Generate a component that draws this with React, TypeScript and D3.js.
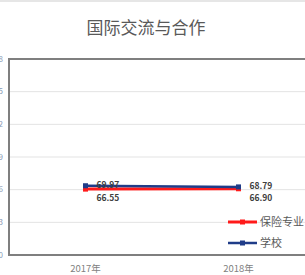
import React from 'react';
import * as d3 from 'd3';

const years = ['2017年', '2018年'];
const seriesNames = ['保险专业', '学校'];
const majorValues = [66.55, 66.9];
const schoolValues = [69.97, 68.79];
const yTicks = [0, 33, 66, 99, 132, 165, 198];

const W = 305;
const H = 275;
const margin = { top: 59, right: -10, bottom: 20, left: 9 };

const App: React.FC = () => {
  const innerW = W - margin.left - margin.right;
  const innerH = H - margin.top - margin.bottom;

  const x = d3.scalePoint<string>().domain(years).range([0, innerW]).padding(0.5);
  const y = d3.scaleLinear().domain([0, 198]).range([innerH, 0]);

  const line = d3.line<number>()
    .x((_, i) => x(years[i]) || 0)
    .y(d => y(d));

  const series = [
    { name: seriesNames[0], values: majorValues, color: '#ff1a1a', width: 3, dy: 9 },
    { name: seriesNames[1], values: schoolValues, color: '#1f3c88', width: 2.5, dy: -1 },
  ];

  return (
    <svg width={W} height={H} style={{ position: 'absolute', left: 0, top: 0, background: '#fff' }}
      fontFamily="'Noto Sans CJK SC', 'Noto Sans', sans-serif">
      <rect x={0} y={0} width={W} height={2} fill="#e6e6e6" />
      <text x={146} y={34} textAnchor="middle" fontSize={17} fill="#595959">国际交流与合作</text>
      <g transform={`translate(${margin.left},${margin.top})`}>
        {/* grid */}
        {yTicks.slice(1, -1).map(t => (
          <line key={t} x1={0} x2={innerW} y1={y(t)} y2={y(t)} stroke="#e3e3e3" strokeWidth={1} />
        ))}
        {/* y tick labels, mostly outside the crop */}
        {yTicks.map(t => (
          <text key={t} x={-6} y={y(t)} dy="0.35em" textAnchor="end" fontSize={8} fill="#8a9ab5">{t}</text>
        ))}
        {/* frame */}
        <path d={`M${innerW},0H0V${innerH}H${innerW}`} fill="none" stroke="#7f7f7f" strokeWidth={2} />
        {/* lines */}
        {series.map(s => (
          <g key={s.name}>
            <path d={line(s.values) || ''} fill="none" stroke={s.color} strokeWidth={s.width} />
            {s.values.map((v, i) => (
              <rect key={i} x={(x(years[i]) || 0) - 2.5} y={y(v) - 2.5} width={5} height={5} fill={s.color} />
            ))}
          </g>
        ))}
        {/* data labels */}
        {series.map(s => s.values.map((v, i) => (
          <text key={s.name + i} x={(x(years[i]) || 0) + 11} y={y(v) + s.dy} dy="0.35em" fontSize={8.5}
            fontWeight="bold" fill="#404040">{v.toFixed(2)}</text>
        )))}
        {/* x labels */}
        {years.map(yr => (
          <text key={yr} x={x(yr) || 0} y={innerH + 17} textAnchor="middle" fontSize={9.5} fill="#7f7f7f">{yr}</text>
        ))}
        {/* legend */}
        {series.map((s, i) => {
          const ly = 163 + i * 21;
          return (
            <g key={s.name} transform={`translate(219,${ly})`}>
              <line x1={0} x2={29} y1={0} y2={0} stroke={s.color} strokeWidth={s.width} />
              <rect x={12} y={-2.5} width={5} height={5} fill={s.color} />
              <text x={32} y={0} dy="0.35em" fontSize={11} fill="#595959">{s.name}</text>
            </g>
          );
        })}
      </g>
    </svg>
  );
};

export default App;
